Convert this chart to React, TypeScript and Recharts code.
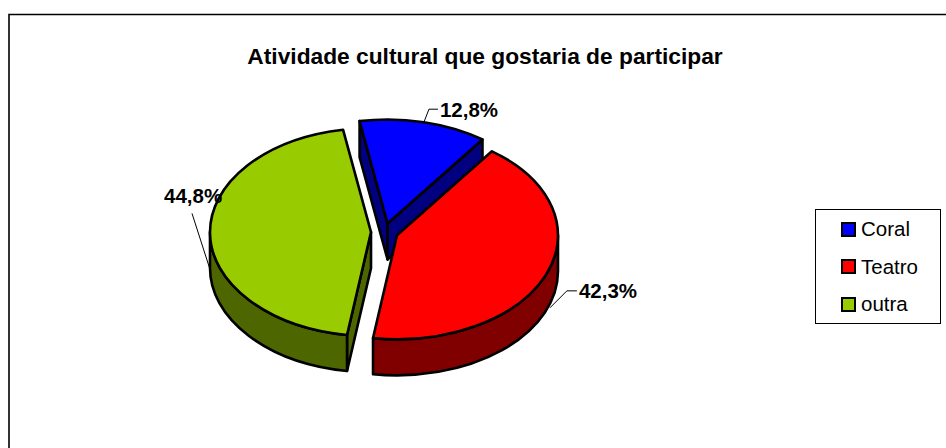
import React from "react";
import { PieChart, Pie, Cell, Legend } from "recharts";

const categories = ["Coral", "Teatro", "outra"];
const shares = [12.8, 42.3, 44.8];
const topColors = ["#0000FF", "#FF0000", "#99CC00"];
const sideColors = ["#000080", "#800000", "#4D6600"];
const titleText = "Atividade cultural que gostaria de participar";

const rows = categories.map((name, i) => ({ name, value: shares[i] }));

const TILT = 0.646;
const DEPTH = 36;
const EXPLODE = 13.5;
const RAD = Math.PI / 180;
const EDGE = 2.6;

const rim = (cx: number, cy: number, r: number, a: number) => ({
  x: cx + r * Math.cos(a * RAD),
  y: cy - r * TILT * Math.sin(a * RAD),
});
const shift = (cx: number, cy: number, mid: number) => ({
  x: cx + EXPLODE * Math.cos(mid * RAD),
  y: cy - EXPLODE * TILT * Math.sin(mid * RAD),
});

function Slice(props: any) {
  const { cx, cy, outerRadius: r, startAngle, endAngle, index, fill } = props;
  const mid = (startAngle + endAngle) / 2;
  const c = shift(cx, cy, mid);
  const s = rim(c.x, c.y, r, startAngle);
  const e = rim(c.x, c.y, r, endAngle);
  const ry = r * TILT;
  const large = Math.abs(startAngle - endAngle) > 180 ? 1 : 0;
  const side = sideColors[index];
  const common = { fill: side, stroke: "#000", strokeWidth: EDGE, strokeLinejoin: "round" as const };

  const walls: React.ReactNode[] = [];
  const wall = (p: { x: number; y: number }, key: string) => (
    <path
      key={key}
      {...common}
      d={`M${c.x},${c.y}L${p.x},${p.y}L${p.x},${p.y + DEPTH}L${c.x},${c.y + DEPTH}Z`}
    />
  );
  // a cut face shows when its outward normal points toward the viewer
  if (Math.sin((startAngle + 90) * RAD) < 0) walls.push(wall(s, "start"));
  if (Math.sin((endAngle - 90) * RAD) < 0) walls.push(wall(e, "end"));

  // outer wall: the part of the rim on the lower half of the ellipse, angles in [-180, 0]
  const segFrom = Math.min(startAngle, 0);
  const segTo = Math.max(endAngle, -180);
  if (segFrom > segTo) {
    const a = rim(c.x, c.y, r, segFrom);
    const b = rim(c.x, c.y, r, segTo);
    walls.push(
      <path
        key="outer"
        {...common}
        d={`M${a.x},${a.y}A${r},${ry} 0 0 1 ${b.x},${b.y}L${b.x},${b.y + DEPTH}A${r},${ry} 0 0 0 ${a.x},${a.y + DEPTH}Z`}
      />
    );
  }

  return (
    <g>
      {walls}
      <path
        fill={fill}
        stroke="#000"
        strokeWidth={EDGE}
        strokeLinejoin="round"
        d={`M${c.x},${c.y}L${s.x},${s.y}A${r},${ry} 0 ${large} 1 ${e.x},${e.y}Z`}
      />
    </g>
  );
}

// leader paths and text anchors, relative to the rim point of each slice
const leaderOffsets = [
  { drop: 0, path: [[0, 0], [5, -13], [14, -13]], text: [16, -5] },
  { drop: 36, path: [[4, -3], [21, -20], [31, -20]], text: [33, -13] },
  { drop: 36, path: [[0, 0], [-18, -56]], text: [-46, -66] },
];

function SliceLabel(props: any) {
  const { cx, cy, outerRadius: r, midAngle, index, value } = props;
  const c = shift(cx, cy, midAngle);
  const p = rim(c.x, c.y, r, midAngle);
  const o = leaderOffsets[index];
  const y0 = p.y + o.drop;
  const pts = o.path.map(([dx, dy]) => `${p.x + dx},${y0 + dy}`).join(" ");
  return (
    <g>
      <polyline points={pts} fill="none" stroke="#000" strokeWidth={1} />
      <text
        x={p.x + o.text[0]}
        y={y0 + o.text[1]}
        fontFamily="Liberation Sans"
        fontWeight="bold"
        fontSize={20.5}
        fill="#000"
      >
        {`${value.toFixed(1).replace(".", ",")}%`}
      </text>
    </g>
  );
}

function LegendBox(props: any) {
  const items = props.payload || [];
  return (
    <div
      style={{
        boxSizing: "border-box",
        width: 126,
        height: 115,
        border: "1px solid #000",
        background: "#fff",
        position: "relative",
        fontFamily: "Liberation Sans",
        fontSize: 20.5,
        color: "#000",
      }}
    >
      {items.map((it: any, i: number) => (
        <div
          key={it.value}
          style={{ position: "absolute", left: 25, top: 11 + i * 37.5, height: 16, display: "flex", alignItems: "center" }}
        >
          <span
            style={{
              boxSizing: "border-box",
              display: "inline-block",
              width: 15,
              height: 15,
              border: "2.5px solid #000",
              background: it.color,
              marginRight: 5,
            }}
          />
          <span>{it.value}</span>
        </div>
      ))}
    </div>
  );
}

export default function App() {
  return (
    <div style={{ position: "absolute", left: 0, top: 0, width: 946, height: 448, overflow: "hidden", background: "#fff" }}>
      <PieChart width={946} height={448} margin={{ top: 0, right: 0, bottom: 0, left: 0 }}>
        <path d="M9,448L9,14.5L946,14.5" fill="none" stroke="#000" strokeWidth={1.6} />
        <text
          x={485}
          y={64}
          textAnchor="middle"
          fontFamily="Liberation Sans"
          fontWeight="bold"
          fontSize={22.75}
          fill="#000"
        >
          {titleText}
        </text>
        <Pie
          data={rows}
          dataKey="value"
          nameKey="name"
          cx={384.5}
          cy={232}
          outerRadius={161}
          startAngle={100}
          endAngle={-260}
          stroke="none"
          isAnimationActive={false}
          shape={Slice}
          label={SliceLabel}
          labelLine={false}
        >
          {rows.map((r, i) => (
            <Cell key={r.name} fill={topColors[i]} />
          ))}
        </Pie>
        <Legend
          layout="vertical"
          align="right"
          verticalAlign="middle"
          content={LegendBox}
          wrapperStyle={{ position: "absolute", left: 815, top: 209, width: 126, height: 115, right: "auto", bottom: "auto" }}
        />
      </PieChart>
    </div>
  );
}
